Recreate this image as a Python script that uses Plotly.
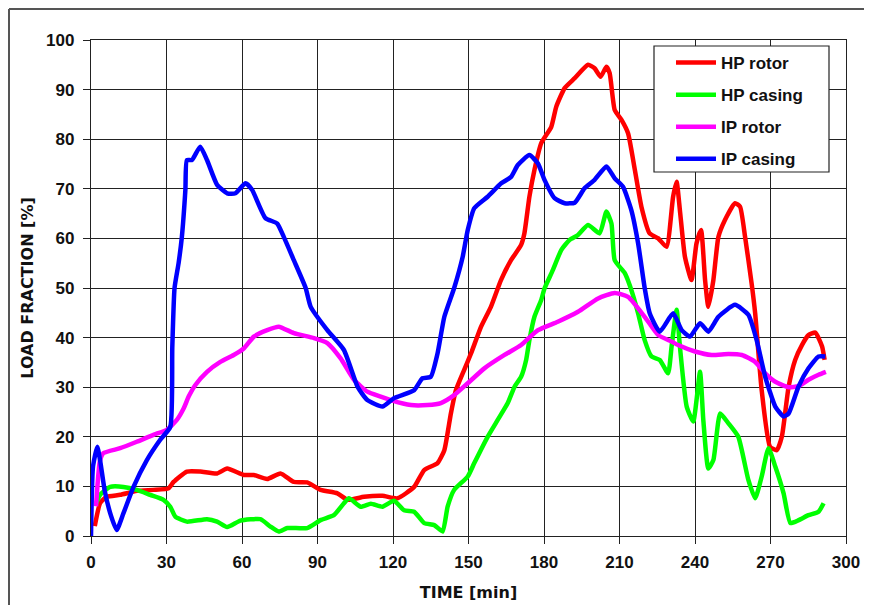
import plotly.graph_objects as go

# ---- data ----
hp_rotor_t = [1.5, 3.6, 6.2, 11.6, 18.2, 24.8, 30.8, 32.8, 38.1, 43.4, 50.1, 54.1, 60.7, 64.7, 70, 75.3, 80.6, 85.9, 91.2, 97.9, 101.9, 108.5, 115.8, 121.8, 128.4, 132.4, 137.7, 140.4, 143, 145, 148.3, 151, 155, 158.9, 162.9, 166.9, 170.9, 172.2, 174.2, 176.2, 178.9, 182.9, 184.9, 188.2, 192.2, 197.5, 200.1, 202.5, 204.8, 206.1, 208.1, 210.8, 213.4, 216.1, 218.7, 222, 225.4, 228.7, 231.3, 232.7, 234, 236, 238.6, 240.6, 242.4, 244, 245.3, 247.3, 249.3, 251.9, 255.9, 257.9, 259.9, 262.5, 263.9, 266.5, 269.8, 272.5, 274.5, 277.2, 279.8, 282.5, 285.1, 287.8, 290.5, 291.5]
hp_rotor_v = [2, 6.6, 7.9, 8.3, 9.1, 9.3, 9.6, 10.9, 13, 13, 12.6, 13.6, 12.3, 12.3, 11.5, 12.6, 10.9, 10.8, 9.3, 8.6, 7.3, 7.9, 8.1, 7.6, 9.9, 13.3, 14.7, 17.3, 24.7, 29.4, 33.5, 36.8, 42.2, 46.2, 51.6, 55.6, 58.7, 61, 68.4, 73.8, 79.2, 82.5, 86.6, 90.3, 92.3, 95, 94.3, 92.6, 94.6, 93.3, 85.9, 83.9, 81.2, 73.8, 66.4, 61, 60, 58.3, 68.4, 71.4, 65.7, 56.3, 51.6, 59, 61.7, 51.6, 46.2, 51.6, 60.3, 63.7, 67.1, 66.4, 60.3, 50.9, 44.9, 29.4, 18, 17.3, 20, 30.1, 35.5, 38.5, 40.5, 41, 38.2, 35.5]

hp_casing_t = [2, 3.6, 7.6, 12.9, 18.2, 23.5, 28.8, 31.5, 33.5, 38.1, 46.1, 50.1, 54.1, 59.4, 67.3, 71.3, 74.6, 78, 85.9, 91.2, 96.5, 100.5, 102.5, 107.2, 111.2, 115.8, 120.4, 124.4, 128.4, 132.4, 136.4, 139.7, 141.7, 144.3, 149.7, 152.3, 157.6, 161.6, 165.6, 168.3, 170.9, 172.9, 174.2, 176.2, 178.9, 180.2, 183.5, 186.9, 190.2, 193.5, 197.5, 202.1, 204.8, 206.8, 208.1, 212.1, 214.1, 217.4, 220, 222.7, 226, 229.3, 230.7, 232.7, 234, 236.7, 239.3, 242, 243.3, 245.3, 247.3, 250, 253.3, 257.2, 261.2, 263.9, 266.5, 269.2, 271.9, 275.2, 277.9, 281.2, 285.1, 289.1, 291.1]
hp_casing_v = [6.5, 8.3, 9.9, 9.9, 9.3, 8.3, 7.3, 5.9, 3.9, 2.9, 3.4, 2.9, 1.8, 3.1, 3.4, 1.9, 0.9, 1.6, 1.6, 3.2, 4.2, 6.6, 7.6, 5.9, 6.5, 5.9, 7.1, 5.2, 4.9, 2.6, 2.2, 0.9, 5.9, 9.3, 12, 14.7, 20, 23.4, 26.8, 30.1, 32.1, 35.5, 39.5, 44.2, 47.6, 49.9, 53.6, 57.7, 59.7, 60.7, 62.7, 61, 65.4, 63, 55.6, 53, 50.5, 44.9, 39.5, 36.2, 35.5, 32.8, 38.2, 45.6, 38.2, 26.1, 23.1, 33.1, 23.4, 13.6, 15.3, 24.7, 22.7, 20, 11.3, 7.6, 12, 17.7, 14, 8.6, 2.6, 3.2, 4.2, 4.9, 6.6]

ip_rotor_t = [2, 3.5, 4.9, 11.6, 18.2, 24.8, 30.1, 34.1, 36.8, 38.8, 41.4, 46.1, 51.4, 56.7, 60.7, 64.7, 70, 74.6, 80.6, 88.6, 93.9, 99.2, 104.5, 109.8, 115.1, 119.1, 127.1, 133.7, 139, 144.3, 149.7, 156.3, 164.3, 170.9, 177.6, 185.5, 193.5, 201.5, 208.1, 213.4, 220, 225.4, 230.7, 233.3, 240, 246.6, 253.3, 258.6, 263.9, 267.9, 271.9, 277.2, 281.1, 285.1, 289.1, 292]
ip_rotor_v = [6, 15, 16.7, 17.7, 19, 20.4, 21.4, 23.4, 25.7, 28.1, 30.4, 33.1, 35.1, 36.5, 37.8, 40.2, 41.5, 42.2, 40.9, 39.9, 38.9, 35.8, 31.5, 29.1, 28.1, 27.4, 26.4, 26.4, 26.8, 28.4, 30.8, 33.8, 36.5, 38.5, 41.5, 43.2, 45.2, 47.9, 49, 48.2, 44.2, 40.5, 39.2, 38.5, 37.2, 36.5, 36.7, 36.5, 35.1, 32.8, 31.1, 30, 30.2, 31.5, 32.5, 33.1]

ip_casing_t = [0, 0.8, 2.5, 3.6, 5.5, 8, 10.2, 12.9, 16.9, 22.2, 27.5, 31.5, 32.3, 33.2, 34.8, 36.1, 37.5, 38.1, 40.1, 43.4, 46.1, 50.1, 54.1, 57.4, 61.4, 64, 69.3, 74, 76.6, 80.6, 85.3, 87.3, 93.9, 100.5, 105.9, 109.8, 115.8, 120.4, 128.4, 131.7, 135, 137.7, 140.4, 144.3, 147.7, 149.7, 152.3, 157.6, 163, 166.9, 169.6, 174.2, 177.6, 180.2, 184.2, 188.2, 192.2, 196.1, 200.1, 204.8, 208.1, 211.4, 214.7, 217.4, 220, 222, 226, 231.3, 234.7, 238, 242, 245.3, 249.3, 255.9, 261.2, 264.5, 267.9, 271.9, 275.2, 277.2, 281.1, 285.1, 289.1, 291.8]
ip_casing_v = [0, 14, 18, 15.3, 9, 4, 1.2, 4.6, 9.9, 15.3, 19.4, 22, 38, 50, 55, 60.3, 69.8, 75.8, 75.8, 78.5, 75.8, 70.8, 69.1, 69.1, 71.1, 69.8, 64.1, 63, 60.3, 55.6, 50, 46.2, 41.5, 37.5, 30.1, 27.4, 26.1, 27.8, 29.4, 31.8, 32.1, 36.8, 44.2, 50, 56.3, 61.7, 66.1, 68.4, 71.1, 72.4, 74.8, 76.8, 75.1, 71.8, 68.1, 67.1, 67.2, 70.1, 71.8, 74.5, 72.1, 70.4, 65.7, 59, 50, 44.9, 41.2, 44.9, 41.5, 40.2, 42.9, 41.2, 44.2, 46.6, 44.6, 39.5, 32.1, 26.1, 24.1, 24.7, 30.1, 33.8, 36.2, 36.2]

series_names = ["HP rotor", "HP casing", "IP rotor", "IP casing"]
series_colors = ["#ff0000", "#00ff00", "#ff00ff", "#0000ff"]
x_ticks = [0, 30, 60, 90, 120, 150, 180, 210, 240, 270, 300]
y_ticks = [0, 10, 20, 30, 40, 50, 60, 70, 80, 90, 100]

series = [(hp_rotor_t, hp_rotor_v), (hp_casing_t, hp_casing_v),
          (ip_rotor_t, ip_rotor_v), (ip_casing_t, ip_casing_v)]

fig = go.Figure()
for (t, v), name, col in zip(series, series_names, series_colors):
    fig.add_trace(go.Scatter(
        x=t, y=v, mode="lines", name=name, legendgroup=name,
        line=dict(color=col, width=4.5, shape="spline", smoothing=0.5),
    ))

# page body has an 8px margin: the figure starts at page (8, 8)
OFF = 8
W, H = 872 - OFF, 605 - OFF
PL, PR, PT, PB = 91, 846, 40, 536          # plot area in page pixels
L, R, T, B = PL - OFF, 872 - PR, PT - OFF, 605 - PB
pw, ph = PR - PL, PB - PT

def px_x(p):
    return (p - PL) / pw

def px_y(p):
    return (PB - p) / ph

tick_font = dict(family="Liberation Sans, Arial, sans-serif", size=17, color="#111", weight="bold")
title_font = dict(family="DejaVu Sans, sans-serif", size=16, color="#111", weight="bold")

axis_common = dict(
    showgrid=True, gridcolor="#222", gridwidth=1.4,
    showline=True, linecolor="#222", linewidth=1.4, mirror=True,
    ticks="outside", ticklen=7, tickwidth=1.4, tickcolor="#222",
    zeroline=False, tickfont=tick_font,
)

fig.update_layout(
    width=W, height=H,
    margin=dict(l=L, r=R, t=T, b=B, autoexpand=False),
    paper_bgcolor="white", plot_bgcolor="white",
    showlegend=True,
    legend=dict(
        x=px_x(671), y=px_y(45), xanchor="left", yanchor="top",
        bgcolor="rgba(0,0,0,0)", borderwidth=0,
        font=dict(family="Liberation Sans, Arial, sans-serif", size=17, color="#111", weight="bold"),
        tracegroupgap=7, itemwidth=40,
    ),
    xaxis=dict(range=[0, 300], tickvals=x_ticks, ticktext=[str(v) for v in x_ticks],
               ticklabelstandoff=3,
               title=dict(text="TIME [min]", standoff=16, font=title_font),
               **axis_common),
    yaxis=dict(range=[0, 100], tickvals=y_ticks, ticktext=[str(v) for v in y_ticks],
               ticklabelstandoff=5,
               title=dict(text="LOAD FRACTION [%]", standoff=8, font=title_font),
               **axis_common),
)

# legend box (opaque, drawn over the plot like the reference)
fig.add_shape(type="rect", xref="paper", yref="paper", layer="above",
              x0=px_x(654), y0=px_y(46), x1=px_x(829), y1=px_y(172),
              fillcolor="white", line=dict(color="#222", width=1.2))

# outer frame (top and left edges visible in the reference)
fig.add_shape(type="line", xref="paper", yref="paper",
              x0=px_x(9), y0=px_y(9), x1=px_x(880), y1=px_y(9),
              line=dict(color="#555", width=2))
fig.add_shape(type="line", xref="paper", yref="paper",
              x0=px_x(9), y0=px_y(9), x1=px_x(9), y1=px_y(615),
              line=dict(color="#555", width=2))

fig.write_html("out.html")
